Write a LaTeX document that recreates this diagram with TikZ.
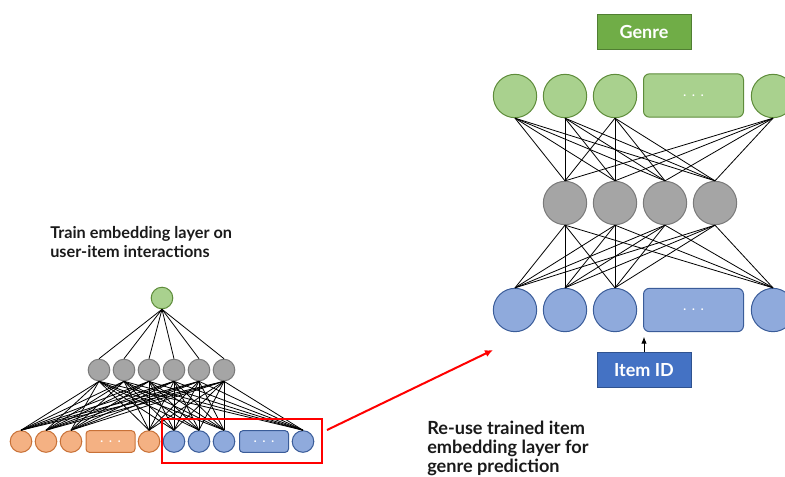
\documentclass[tikz,border=0pt]{standalone}
\usepackage{fontspec}
\setmainfont{Lato}
\usetikzlibrary{arrows.meta}

\definecolor{greenFill}{HTML}{A9D18E}
\definecolor{greenLine}{HTML}{5E8C3A}
\definecolor{grayFill}{HTML}{A5A5A5}
\definecolor{grayLine}{HTML}{7A7A7A}
\definecolor{orangeFill}{HTML}{F4B183}
\definecolor{orangeLine}{HTML}{C87137}
\definecolor{blueFill}{HTML}{8FAADC}
\definecolor{blueLine}{HTML}{3A5C99}
\definecolor{genreFill}{HTML}{70AD47}
\definecolor{genreLine}{HTML}{507E32}
\definecolor{itemFill}{HTML}{4472C4}
\definecolor{itemLine}{HTML}{2F528F}
\definecolor{labelText}{HTML}{1A1A1A}

\begin{document}
\begin{tikzpicture}[
  x=0.75pt, y=-0.75pt,
  neuron/.style={circle, draw, line width=0.75pt, inner sep=0pt},
  bigN/.style={neuron, minimum size=32.5pt},
  smallN/.style={neuron, minimum size=16.2pt},
  greenN/.style={fill=greenFill, draw=greenLine},
  grayN/.style={fill=grayFill, draw=grayLine},
  orangeN/.style={fill=orangeFill, draw=orangeLine},
  blueN/.style={fill=blueFill, draw=blueLine},
  bigdots/.style={rectangle, rounded corners=4.5pt, draw, line width=0.75pt,
    minimum width=75pt, minimum height=32.5pt, inner sep=0pt,
    text=white, font=\fontsize{9}{9}\selectfont\bfseries},
  smalldots/.style={rectangle, rounded corners=2.5pt, draw, line width=0.75pt,
    minimum width=36.75pt, minimum height=16.2pt, inner sep=0pt,
    text=white, font=\fontsize{9}{9}\selectfont\bfseries},
  tagbox/.style={rectangle, draw, line width=0.75pt, minimum width=70.5pt,
    minimum height=26.25pt, inner sep=0pt, text=white,
    font=\fontsize{13.5}{15}\selectfont\bfseries},
  link/.style={black, line width=0.6pt},
  caption/.style={anchor=north west, inner sep=0pt, align=left, text=labelText}
]
\useasboundingbox (0,0) rectangle (785,476);

% ---------- left: embedding trained on user-item interactions ----------
\node[smallN, greenN] (lt) at (162,298) {};
\foreach \i/\x in {1/99,2/124,3/149,4/174,5/199,6/224}
  \node[smallN, grayN] (lg\i) at (\x,370) {};

\node[smallN, orangeN] (lo1) at (21,441.5) {};
\node[smallN, orangeN] (lo2) at (46,441.5) {};
\node[smallN, orangeN] (lo3) at (71,441.5) {};
\node[smalldots, fill=orangeFill, draw=orangeLine] (lod) at (110.5,441.5) {.\ \ .\ \ .};
\node[smallN, orangeN] (lo5) at (149,441.5) {};
\node[smallN, blueN] (lb1) at (174,441.5) {};
\node[smallN, blueN] (lb2) at (199,441.5) {};
\node[smallN, blueN] (lb3) at (224,441.5) {};
\node[smalldots, fill=blueFill, draw=blueLine] (lbd) at (264,441.5) {.\ \ .\ \ .};
\node[smallN, blueN] (lb5) at (303,441.5) {};

\foreach \i in {1,...,6} {
  \draw[link] (lt.south) -- (lg\i.north);
  \foreach \b in {lo1,lo2,lo3,lo5,lb1,lb2,lb3,lb5}
    \draw[link] (lg\i.south) -- (\b.north);
}

\node[caption, font=\fontsize{12.2}{14.3}\selectfont\bfseries] (trainlbl)
  at (50,226) {Train embedding layer on\\user-item interactions};

% highlighted item embedding
\node[draw=red, line width=1.5pt, minimum width=120pt, minimum height=33pt,
      inner sep=0pt] (reusebox) at (242,441) {};

% ---------- right: genre prediction ----------
\node[tagbox, fill=genreFill, draw=genreLine] (genre) at (644,31.5) {Genre};

\node[bigN, greenN] (rt1) at (515,96) {};
\node[bigN, greenN] (rt2) at (565,96) {};
\node[bigN, greenN] (rt3) at (615,96) {};
\node[bigdots, fill=greenFill, draw=greenLine] (rtd) at (693.5,95.5) {.\ \ .\ \ .};
\node[bigN, greenN] (rt5) at (773,96) {};

\foreach \i/\x in {1/565,2/615,3/665,4/715}
  \node[bigN, grayN] (rg\i) at (\x,203) {};

\node[bigN, blueN] (rb1) at (515,310) {};
\node[bigN, blueN] (rb2) at (565,310) {};
\node[bigN, blueN] (rb3) at (615,310) {};
\node[bigdots, fill=blueFill, draw=blueLine] (rbd) at (693.5,310) {.\ \ .\ \ .};
\node[bigN, blueN] (rb5) at (773,310) {};

\node[tagbox, fill=itemFill, draw=itemLine] (item) at (644,370) {Item ID};

\foreach \g in {1,...,4} {
  \foreach \t in {rt1,rt2,rt3,rt5}
    \draw[link] (\t.south) -- (rg\g.north);
  \foreach \b in {rb1,rb2,rb3,rb5}
    \draw[link] (rg\g.south) -- (\b.north);
}

\draw[link, -{Latex[length=5pt, width=4pt]}, shorten >=3.5pt]
  (item.north) -- (item.north |- rbd.south);

% ---------- transfer arrow ----------
\coordinate (reuseFrom) at (327,430);
\coordinate (reuseTo) at (493,350);
\draw[red, line width=1.5pt, -{Latex[length=6pt, width=5.5pt]}] (reuseFrom) -- (reuseTo);

\node[caption, font=\fontsize{13.6}{14.3}\selectfont\bfseries] (reuselbl)
  at (427,421) {Re-use trained item\\embedding layer for\\genre prediction};
\end{tikzpicture}
\end{document}
